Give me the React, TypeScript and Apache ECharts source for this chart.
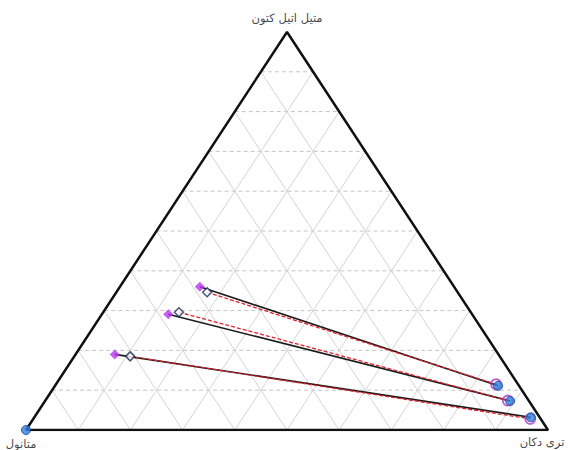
import React, { useEffect, useRef } from "react";
import * as echarts from "echarts";

// Vertex labels (top, bottom-left, bottom-right)
const vertexNames = ["متیل اتیل کتون", "متانول", "تری دکان"];

// Compositions as [MEK fraction (top), decane fraction (right)]; methanol = remainder
const expLeft = [
  [0.36, 0.153],
  [0.291, 0.127],
  [0.19, 0.075],
];
const expRight = [
  [0.111, 0.849],
  [0.073, 0.891],
  [0.032, 0.951],
];
const calcLeft = [
  [0.346, 0.174],
  [0.296, 0.145],
  [0.185, 0.107],
];
const calcRight = [
  [0.115, 0.843],
  [0.074, 0.886],
  [0.028, 0.952],
];
const pureMethanol = [[0, 0]];

const gridFractions = [0.1, 0.2, 0.3, 0.4, 0.5, 0.6, 0.7, 0.8, 0.9];

// ternary -> cartesian (x along base, y height)
const toXY = (p: number[]) => [p[1] + p[0] / 2, p[0]];

export default function App() {
  const ref = useRef<HTMLDivElement>(null);
  useEffect(() => {
    if (!ref.current) return;
    const chart = echarts.init(ref.current, undefined, { renderer: "svg" });
    const series: any[] = [];

    // horizontal dashed grid (constant MEK)
    gridFractions.forEach((a) => {
      series.push({
        type: "line",
        silent: true,
        symbol: "none",
        data: [toXY([a, 0]), toXY([a, 1 - a])],
        lineStyle: { color: "#c4c4c4", width: 1, type: [4, 3] },
        z: 1,
      });
    });
    // constant decane lines
    gridFractions.forEach((b) => {
      series.push({
        type: "line",
        silent: true,
        symbol: "none",
        data: [toXY([0, b]), toXY([1 - b, b])],
        lineStyle: { color: "#d4d4d4", width: 1 },
        z: 1,
      });
    });
    // constant methanol lines
    gridFractions.forEach((c) => {
      series.push({
        type: "line",
        silent: true,
        symbol: "none",
        data: [toXY([0, 1 - c]), toXY([1 - c, 0])],
        lineStyle: { color: "#d4d4d4", width: 1 },
        z: 1,
      });
    });
    // triangle outline
    series.push({
      type: "line",
      silent: true,
      symbol: "none",
      data: [toXY([0, 0]), toXY([0, 1]), toXY([1, 0]), toXY([0, 0])],
      lineStyle: { color: "#111", width: 2.5 },
      z: 3,
    });
    // experimental tie lines (black solid)
    expLeft.forEach((l, i) => {
      series.push({
        type: "line",
        silent: true,
        symbol: "none",
        data: [toXY(l), toXY(expRight[i])],
        lineStyle: { color: "#1a1a1a", width: 1.6 },
        z: 4,
      });
    });
    // calculated tie lines (red dashed)
    calcLeft.forEach((l, i) => {
      series.push({
        type: "line",
        silent: true,
        symbol: "none",
        data: [toXY(l), toXY(calcRight[i])],
        lineStyle: { color: "#e0202a", width: 1.3, type: [4, 2] },
        z: 5,
      });
    });
    // markers
    series.push({
      type: "scatter",
      data: calcRight.map(toXY),
      symbol: "circle",
      symbolSize: 10,
      itemStyle: { color: "rgba(255,255,255,0)", borderColor: "#a83cc8", borderWidth: 1.8 },
      z: 6,
    });
    series.push({
      type: "scatter",
      data: expRight.map(toXY).concat(pureMethanol.map(toXY)),
      symbol: "circle",
      symbolSize: 9,
      itemStyle: { color: "#2f7fe0", borderColor: "#1d4490", borderWidth: 1 },
      z: 7,
    });
    series.push({
      type: "scatter",
      data: expLeft.map(toXY),
      symbol: "diamond",
      symbolSize: 10,
      itemStyle: { color: "#b936f0" },
      z: 7,
    });
    series.push({
      type: "scatter",
      data: calcLeft.map(toXY),
      symbol: "diamond",
      symbolSize: 9,
      itemStyle: { color: "#fff", borderColor: "#1c2b55", borderWidth: 1.5 },
      z: 8,
    });
    // vertex labels
    const vtx = [[1, 0], [0, 0], [0, 1]];
    const labelPos = [
      { position: "top", offset: [0, -3] },
      { position: "bottom", offset: [-5, 3] },
      { position: "bottom", offset: [-6, 1] },
    ];
    series.push({
      type: "scatter",
      silent: true,
      symbolSize: 0,
      data: vtx.map((v, i) => ({
        value: toXY(v),
        label: {
          show: true,
          formatter: vertexNames[i],
          position: labelPos[i].position,
          offset: labelPos[i].offset,
          fontFamily: "DejaVu Sans",
          fontSize: 11.5,
          color: "#111",
        },
      })),
      z: 9,
    });

    chart.setOption({
      animation: false,
      backgroundColor: "#fff",
      grid: { left: 26, right: 22, top: 32, bottom: 20 },
      xAxis: { type: "value", min: 0, max: 1, show: false },
      yAxis: { type: "value", min: 0, max: 1, show: false },
      series,
    });
    return () => chart.dispose();
  }, []);
  return (
    <div
      ref={ref}
      style={{ position: "fixed", left: 0, top: 0, width: 570, height: 450 }}
    />
  );
}
